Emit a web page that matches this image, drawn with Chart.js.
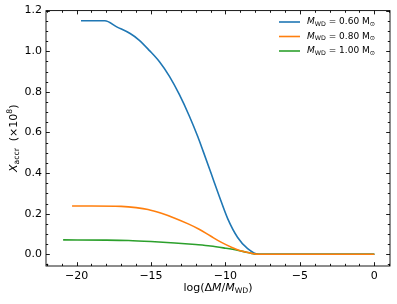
<!DOCTYPE html>
<html>
<head>
<meta charset="utf-8">
<script src="https://cdn.jsdelivr.net/npm/chart.js@4"></script>
<style>
  html, body { margin: 0; padding: 0; background: #fff; }
  #wrap { width: 397px; height: 304px; }
</style>
</head>
<body>
<div id="wrap"><canvas id="chart" width="397" height="304"></canvas></div>
<script>
// data

const masses = ["0.60", "0.80", "1.00"];
const colors = ["#1f77b4", "#ff7f0e", "#2ca02c"];

const logDM06 = [-19.7, -18.1, -17.3, -16.4, -15.8, -15.1, -14.43, -13.76, -13.09, -12.42, -11.86, -11.5, -10.97, -10.41, -9.85, -9.18, -8.51, -7.74, -5, 0];
const xAccr06 = [1.15, 1.15, 1.12, 1.087, 1.055, 1.003, 0.948, 0.876, 0.786, 0.68, 0.58, 0.508, 0.4, 0.285, 0.176, 0.083, 0.028, 0, 0, 0];

const logDM08 = [-20.3, -19, -17.0, -16, -15.2, -14.3, -13.4, -12.5, -11.8, -11.0, -10.3, -9.6, -9.0, -8.3, -7.8, 0];
const xAccr08 = [0.238, 0.238, 0.236, 0.23, 0.221, 0.202, 0.178, 0.15, 0.125, 0.09, 0.06, 0.035, 0.018, 0.006, 0, 0];

const logDM10 = [-20.9, -18, -16.5, -15, -13.4, -12, -11, -10, -9.2, -8.5, -7.8, 0];
const xAccr10 = [0.071, 0.07, 0.068, 0.063, 0.056, 0.048, 0.041, 0.03, 0.02, 0.009, 0, 0];

const xTicks = [-20, -15, -10, -5, 0];
const yTicks = [0, 0.2, 0.4, 0.6, 0.8, 1.0, 1.2];

// helpers

const FONT = "'DejaVu Sans', sans-serif";

function toPoints(xs, ys) {
    return xs.map((x, i) => ({ x: x, y: ys[i] }));
}

// draws text with italic / sub / sup pieces
function richWidth(ctx, parts, size) {
    let w = 0;
    parts.forEach(p => {
        const s = (p.sub || p.sup) ? size * 0.7 : size;
        ctx.font = (p.it ? 'italic ' : '') + s + 'px ' + FONT;
        w += ctx.measureText(p.t).width;
    });
    return w;
}

function drawRich(ctx, parts, x, y, size, align) {
    const w = richWidth(ctx, parts, size);
    let cx = align === 'center' ? x - w / 2 : x;
    ctx.textBaseline = 'middle';
    ctx.textAlign = 'left';
    parts.forEach(p => {
        const s = (p.sub || p.sup) ? size * 0.7 : size;
        ctx.font = (p.it ? 'italic ' : '') + s + 'px ' + FONT;
        let dy = 0;
        if (p.sub) dy = size * 0.25;
        if (p.sup) dy = -size * 0.35;
        ctx.fillText(p.t, cx, y + dy);
        cx += ctx.measureText(p.t).width;
    });
}

// ticks inside the frame, all four sides, plus titles and legend
const decorations = {
    id: 'decorations',
    afterDraw(chart) {
        const ctx = chart.ctx;
        const a = chart.chartArea;
        const xs = chart.scales.x;
        const ys = chart.scales.y;
        ctx.save();
        ctx.strokeStyle = '#000';
        ctx.lineWidth = 0.9;

        ctx.strokeRect(a.left, a.top, a.right - a.left, a.bottom - a.top);

        ctx.beginPath();
        for (let v = -22; v <= 1; v++) {
            const px = Math.round(xs.getPixelForValue(v)) + 0.5;
            const len = v % 5 === 0 ? 3.8 : 2.2;
            ctx.moveTo(px, a.bottom); ctx.lineTo(px, a.bottom - len);
            ctx.moveTo(px, a.top); ctx.lineTo(px, a.top + len);
        }
        for (let k = -1; k <= 24; k++) {
            const v = k * 0.05;
            const py = Math.round(ys.getPixelForValue(v)) + 0.5;
            if (py < a.top - 0.5 || py > a.bottom + 0.5) continue;
            const len = k % 4 === 0 ? 3.8 : 2.2;
            ctx.moveTo(a.left, py); ctx.lineTo(a.left + len, py);
            ctx.moveTo(a.right, py); ctx.lineTo(a.right - len, py);
        }
        ctx.stroke();

        ctx.fillStyle = '#000';
        drawRich(ctx, [
            { t: 'log(Δ' }, { t: 'M', it: true }, { t: '/' }, { t: 'M', it: true },
            { t: 'WD', sub: true }, { t: ')' }
        ], (a.left + a.right) / 2, 288, 11, 'center');

        ctx.save();
        ctx.translate(14, (a.top + a.bottom) / 2);
        ctx.rotate(-Math.PI / 2);
        drawRich(ctx, [
            { t: 'X', it: true }, { t: 'accr', sub: true }, { t: '  (×10' },
            { t: '8', sup: true }, { t: ')' }
        ], 0, 0, 11, 'center');
        ctx.restore();

        // legend
        chart.data.datasets.forEach((ds, i) => {
            const y = 22 + i * 14.5;
            ctx.strokeStyle = ds.borderColor;
            ctx.lineWidth = 1.6;
            ctx.beginPath();
            ctx.moveTo(279, y); ctx.lineTo(300, y);
            ctx.stroke();
            ctx.fillStyle = '#000';
            drawRich(ctx, [
                { t: 'M', it: true }, { t: 'WD', sub: true }, { t: ' = ' + masses[i] + ' M' },
                { t: '⊙', sub: true }
            ], 307, y, 9, 'left');
        });
        ctx.restore();
    }
};

const ctx = document.getElementById('chart');

const seriesX = [logDM06, logDM08, logDM10];
const seriesY = [xAccr06, xAccr08, xAccr10];
const drawOrder = [2, 0, 1];

const chart = new Chart(ctx, {
    type: 'line',
    data: {
        datasets: masses.map((m, i) => ({
            label: 'M_WD = ' + m + ' M_sun',
            data: toPoints(seriesX[i], seriesY[i]),
            borderColor: colors[i],
            backgroundColor: colors[i],
            borderWidth: 1.6,
            pointRadius: 0,
            fill: false,
            cubicInterpolationMode: 'monotone',
            order: drawOrder[i]
        }))
    },
    options: {
        responsive: false,
        animation: false,
        layout: { padding: { top: 9, right: 7, left: 0, bottom: 0 } },
        plugins: {
            legend: { display: false },
            tooltip: { enabled: false }
        },
        scales: {
            x: {
                type: 'linear',
                min: -22.05,
                max: 1.05,
                grid: { display: false, drawTicks: false },
                border: { display: false },
                afterBuildTicks: s => { s.ticks = xTicks.map(v => ({ value: v })); },
                afterFit: s => { s.height = 38; },
                ticks: {
                    padding: 4,
                    maxRotation: 0,
                    color: '#000',
                    font: { family: FONT, size: 11 },
                    callback: v => String(v).replace('-', '\u2212')
                }
            },
            y: {
                type: 'linear',
                min: -0.0575,
                max: 1.2,
                grid: { display: false, drawTicks: false },
                border: { display: false },
                afterBuildTicks: s => { s.ticks = yTicks.map(v => ({ value: v })); },
                afterFit: s => { s.width = 46; },
                ticks: {
                    padding: 4,
                    color: '#000',
                    font: { family: FONT, size: 11 },
                    callback: v => Number(v).toFixed(1)
                }
            }
        }
    },
    plugins: [decorations]
});
</script>
</body>
</html>
